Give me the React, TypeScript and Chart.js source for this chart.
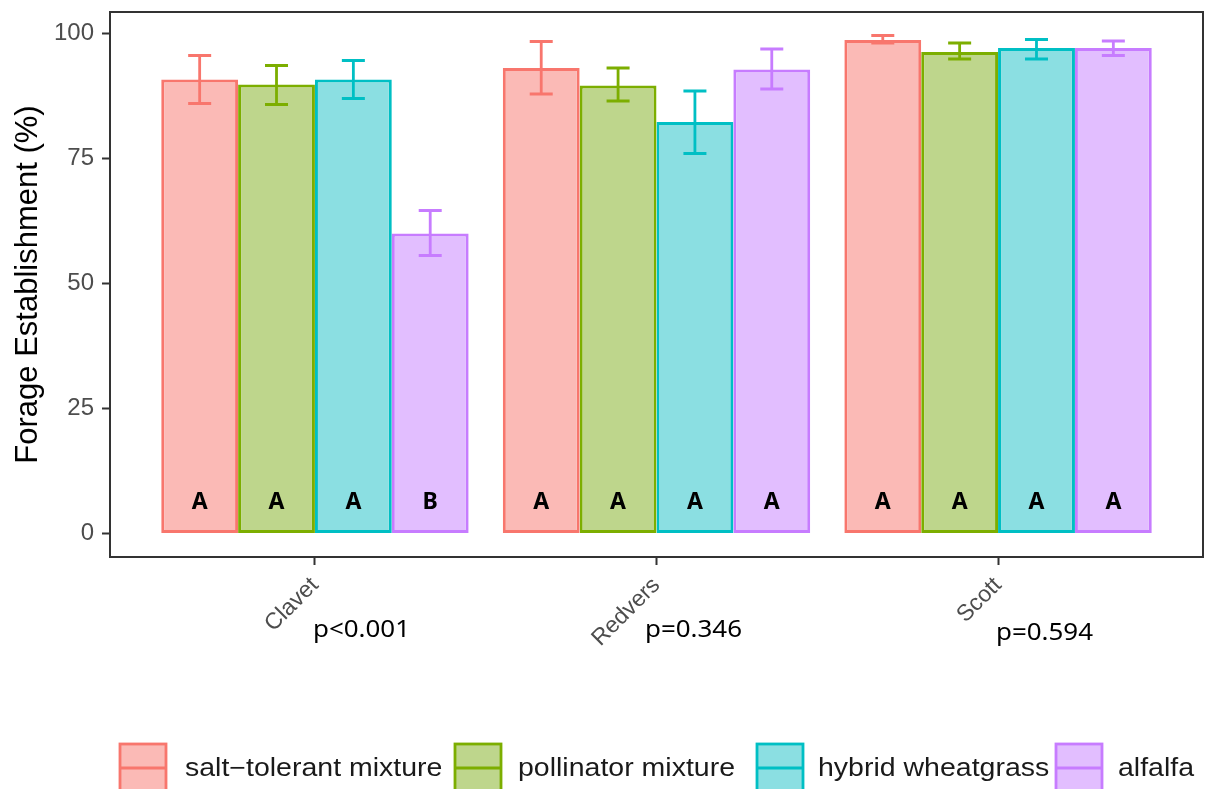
import React, { useEffect, useRef } from "react";
import { Chart, registerables } from "chart.js";

Chart.register(...registerables);

// Sites along the x axis and their ANOVA p-values
const sites = ["Clavet", "Redvers", "Scott"];
const pValues = ["p<0.001", "p=0.346", "p=0.594"];
const yTicks = [0, 25, 50, 75, 100];

// Forage treatments
const seriesNames = ["salt−tolerant mixture", "pollinator mixture", "hybrid wheatgrass", "alfalfa"];
const lineColors = ["#F8766D", "#7CAE00", "#00BFC4", "#C77CFF"];
const fillColors = ["#FBBAB6", "#BED68C", "#8BDFE2", "#E2BEFF"];

// Mean establishment (%) per site, with error bar limits
const saltMean = [90.8, 93.1, 98.7];
const saltLow = [86.0, 87.9, 98.1];
const saltHigh = [95.6, 98.4, 99.6];

const pollMean = [89.8, 89.6, 96.3];
const pollLow = [85.8, 86.5, 94.9];
const pollHigh = [93.6, 93.1, 98.1];

const hybridMean = [90.8, 82.3, 97.1];
const hybridLow = [87.0, 76.0, 94.9];
const hybridHigh = [94.6, 88.5, 98.8];

const alfalfaMean = [60.0, 92.8, 97.1];
const alfalfaLow = [55.6, 88.9, 95.6];
const alfalfaHigh = [64.6, 96.9, 98.5];

// Tukey grouping letters
const saltLetters = ["A", "A", "A"];
const pollLetters = ["A", "A", "A"];
const hybridLetters = ["A", "A", "A"];
const alfalfaLetters = ["B", "A", "A"];
const letterLevel = 6.2;

const means = [saltMean, pollMean, hybridMean, alfalfaMean];
const lows = [saltLow, pollLow, hybridLow, alfalfaLow];
const highs = [saltHigh, pollHigh, hybridHigh, alfalfaHigh];
const letters = [saltLetters, pollLetters, hybridLetters, alfalfaLetters];

const SANS = '"Liberation Sans", Arial, sans-serif';

function fitText(ctx: CanvasRenderingContext2D, text: string, x: number, y: number, width: number) {
  const w = ctx.measureText(text).width;
  ctx.save();
  ctx.translate(x, y);
  ctx.scale(width / w, 1);
  ctx.textAlign = "left";
  ctx.fillText(text, 0, 0);
  ctx.restore();
}

const annotations = {
  id: "annotations",
  afterDatasetsDraw(chart: any) {
    const ctx: CanvasRenderingContext2D = chart.ctx;
    const yScale = chart.scales.y;
    // error bars
    means.forEach((_, di) => {
      const meta = chart.getDatasetMeta(di);
      meta.data.forEach((el: any, j: number) => {
        const x = el.x;
        const yl = yScale.getPixelForValue(lows[di][j]);
        const yh = yScale.getPixelForValue(highs[di][j]);
        ctx.save();
        ctx.strokeStyle = lineColors[di];
        ctx.lineWidth = 2.8;
        ctx.beginPath();
        ctx.moveTo(x, yl);
        ctx.lineTo(x, yh);
        ctx.moveTo(x - 11.5, yl);
        ctx.lineTo(x + 11.5, yl);
        ctx.moveTo(x - 11.5, yh);
        ctx.lineTo(x + 11.5, yh);
        ctx.stroke();
        ctx.restore();
        // grouping letter
        ctx.save();
        ctx.fillStyle = "#000";
        ctx.font = 'bold 23px "Noto Sans", "Liberation Sans", sans-serif';
        ctx.textAlign = "center";
        ctx.textBaseline = "middle";
        ctx.fillText(letters[di][j], x, yScale.getPixelForValue(letterLevel));
        ctx.restore();
      });
    });
  },
  afterDraw(chart: any) {
    const ctx: CanvasRenderingContext2D = chart.ctx;
    const a = chart.chartArea;
    // panel border
    ctx.save();
    ctx.strokeStyle = "#333333";
    ctx.lineWidth = 2;
    ctx.strokeRect(a.left, a.top, a.right - a.left, a.bottom - a.top);
    ctx.restore();

    // p-values under the site labels
    const pX = [313, 645, 996];
    const pY = [637, 637, 640];
    ctx.save();
    ctx.fillStyle = "#000";
    ctx.font = '23px "Noto Sans", "Open Sans", sans-serif';
    ctx.textBaseline = "alphabetic";
    pValues.forEach((t, i) => fitText(ctx, t, pX[i], pY[i], 97));
    ctx.restore();

    // legend
    const boxX = [120, 455, 757, 1056];
    const textX = [185, 518, 818, 1118];
    const boxTop = 744;
    const boxW = 46;
    const midY = 768;
    seriesNames.forEach((name, i) => {
      ctx.save();
      ctx.fillStyle = fillColors[i];
      ctx.strokeStyle = lineColors[i];
      ctx.lineWidth = 2.8;
      ctx.fillRect(boxX[i], boxTop, boxW, 60);
      ctx.strokeRect(boxX[i], boxTop, boxW, 60);
      ctx.beginPath();
      ctx.moveTo(boxX[i], midY);
      ctx.lineTo(boxX[i] + boxW, midY);
      ctx.stroke();
      ctx.fillStyle = "#1A1A1A";
      ctx.font = "25px " + SANS;
      ctx.textBaseline = "middle";
      const w = ctx.measureText(name).width * 1.14;
      fitText(ctx, name, textX[i], midY + 1, w);
      ctx.restore();
    });
  },
};

const noScalePadding = (s: any) => {
  s.paddingTop = 0;
  s.paddingBottom = 0;
  s.paddingLeft = 0;
  s.paddingRight = 0;
};

export default function App() {
  const ref = useRef<HTMLCanvasElement>(null);

  useEffect(() => {
    const datasets = means.map((vals, i) => ({
      label: seriesNames[i],
      data: vals.map((v, j) => ({ x: j + 1, y: v })),
      backgroundColor: fillColors[i],
      borderColor: lineColors[i],
      borderWidth: 3,
      borderSkipped: false,
      categoryPercentage: 0.9,
      barPercentage: 1.0,
    }));

    const tickGrid = {
      offset: false,
      drawOnChartArea: false,
      drawTicks: true,
      tickLength: 8,
      tickColor: "#333333",
      tickWidth: 2,
    };

    const chart = new Chart(ref.current as HTMLCanvasElement, {
      type: "bar",
      data: { datasets } as any,
      options: {
        responsive: false,
        animation: false,
        devicePixelRatio: 1,
        layout: { padding: { left: 0, top: 12, right: 5, bottom: 0 } },
        plugins: { legend: { display: false }, tooltip: { enabled: false } },
        scales: {
          x: {
            type: "linear",
            min: 0.4,
            max: 3.6,
            offset: false,
            afterBuildTicks: (s: any) => {
              s.ticks = sites.map((_, i) => ({ value: i + 1 }));
            },
            afterFit: (s: any) => {
              s.height = 232;
              noScalePadding(s);
            },
            grid: tickGrid,
            border: { display: false },
            ticks: {
              autoSkip: false,
              minRotation: 45,
              maxRotation: 45,
              padding: 7,
              color: "#4D4D4D",
              font: { family: SANS, size: 23 },
              callback: (v: any) => sites[Math.round(Number(v)) - 1],
            },
          },
          y: {
            type: "linear",
            min: -4.7,
            max: 104.3,
            afterBuildTicks: (s: any) => {
              s.ticks = yTicks.map((v) => ({ value: v }));
            },
            afterFit: (s: any) => {
              s.width = 110;
              noScalePadding(s);
            },
            grid: tickGrid,
            border: { display: false },
            ticks: {
              padding: 8,
              color: "#4D4D4D",
              font: { family: SANS, size: 24 },
            },
            title: {
              display: true,
              text: "Forage Establishment (%)",
              color: "#000",
              font: { family: SANS, size: 31 },
              padding: { top: 10, bottom: 0 },
            },
          },
        },
      } as any,
      plugins: [annotations],
    });
    return () => chart.destroy();
  }, []);

  return (
    <div style={{ position: "absolute", left: 0, top: 0, width: 1208, height: 789, background: "#fff" }}>
      <canvas ref={ref} width={1208} height={789} style={{ width: 1208, height: 789, display: "block" }} />
    </div>
  );
}
